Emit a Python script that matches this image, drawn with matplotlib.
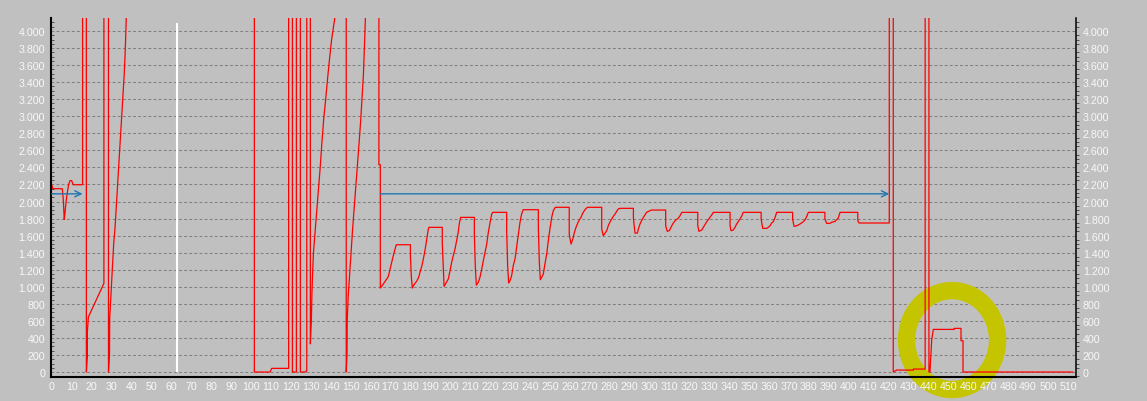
import matplotlib.pyplot as plt
from matplotlib.patches import Ellipse
from matplotlib.ticker import MultipleLocator, FuncFormatter

# off-scale value: the signal leaves the chart there
OFF = 6000

# red signal (x, value)
red_x = [0, 0.6, 5.3, 5.8, 6.1, 6.3, 6.6, 7.0, 7.5, 8.0, 8.5, 9.2, 10.0, 10.8, 15.5, 15.5,
         17.4, 17.4, 17.9, 17.9, 18.4, 25.8, 26.2, 26.2,
         28.5, 28.5, 29.0, 29.1, 29.7, 30.1, 30.6, 31.1, 31.8, 32.3, 32.8, 33.3, 33.9, 34.4,
         34.9, 35.4, 35.9, 36.4, 36.8, 37.1, 37.4, 37.7,
         101.7, 101.7, 109.6, 110.4, 118.9, 118.9, 120.8, 120.8, 122.8, 122.8, 124.8, 124.8,
         127.5, 127.8, 128.0, 128.0, 129.8, 129.8, 130.3, 130.6, 131.3, 132.3, 133.1, 134.0,
         134.8, 135.6, 136.5, 137.5, 138.5, 139.5, 140.5, 142.0, 142.3,
         147.8, 147.8, 148.2, 148.3, 148.8, 149.4, 150.0, 150.5, 151.0, 151.7, 152.4, 153.1,
         153.7, 154.4, 155.1, 155.7, 156.4, 156.9, 157.4, 157.7,
         164.2, 164.2, 164.9, 164.9,
         165.6, 166.4, 167.3, 168.1, 168.9, 169.8, 170.6, 171.4, 172.3, 172.9, 180.0, 180.0,
         180.5, 181.0, 181.5, 182.3, 183.1, 184.0, 184.8, 185.7, 186.5, 187.3, 188.2, 189.0,
         189.3, 196.0, 196.0, 196.9, 197.9, 199.0, 199.9, 200.7, 201.5, 202.4, 203.2, 204.0,
         204.5, 205.2, 212.1, 212.1, 212.6, 213.1, 214.1, 214.9, 215.8, 216.6, 217.4, 218.3,
         219.1, 220.0, 220.8, 221.3, 228.3, 228.3, 228.8, 229.3, 230.0, 230.8, 231.6, 232.5,
         233.3, 234.2, 235.0, 235.8, 236.6, 244.2, 244.2, 244.7, 245.2, 245.9, 246.7, 247.5,
         248.4, 249.2, 250.0, 250.9, 251.7, 252.7, 259.7, 259.7, 260.6, 261.5, 262.3, 263.1,
         264.0, 264.8, 265.6, 266.5, 267.6, 268.8, 276.0, 276.0, 276.8, 278.5, 279.3, 280.2,
         281.0, 281.8, 282.7, 283.5, 284.3, 285.2, 291.9, 291.9, 292.7, 293.9, 294.4, 295.2,
         296.0, 296.9, 297.7, 298.5, 300.2, 301.1, 308.1, 308.1, 308.9, 310.0, 310.8, 311.6,
         312.8, 314.5, 315.3, 316.2, 324.2, 324.2, 324.8, 326.2, 327.0, 328.7, 330.3, 331.2,
         332.0, 340.4, 340.4, 340.9, 342.0, 342.9, 343.7, 344.5, 345.4, 346.2, 347.0, 356.0,
         356.0, 356.8, 358.8, 359.6, 360.5, 361.3, 362.1, 363.0, 363.8, 371.8, 371.8, 372.5,
         373.9, 375.5, 377.2, 378.1, 378.9, 379.7, 388.0, 388.0, 388.9, 390.6, 391.4, 393.1,
         394.7, 395.6, 404.5, 404.5, 405.1, 420.3, 420.3,
         422.3, 422.3, 423.0, 424.0, 432.4, 432.4, 438.3, 438.3, 440.2, 440.2, 440.7, 441.6,
         442.4, 452.9, 452.9, 456.3, 456.3, 457.3, 457.3, 512.3]
red_y = [2195, 2150, 2150, 2030, 1885, 1790, 1850, 1950, 2050, 2130, 2200, 2245, 2245, 2197, 2197, OFF,
         OFF, 0, 176, 470, 645, 1020, 1040, OFF,
         OFF, 0, 211, 620, 895, 1090, 1287, 1500, 1697, 1892, 2088, 2283, 2498, 2694,
         2909, 3105, 3300, 3496, 3710, 3906, 4141, OFF,
         OFF, 0, 0, 43, 43, OFF, OFF, 0, 0, OFF, OFF, 0,
         0, 16, 16, OFF, OFF, 330, 600, 935, 1384, 1677, 1912, 2166,
         2420, 2694, 2968, 3202, 3457, 3691, 3906, 4141, OFF,
         OFF, 0, 211, 602, 895, 1111, 1325, 1501, 1677, 1892, 2108, 2323,
         2518, 2733, 2968, 3202, 3476, 3789, 4141, OFF,
         OFF, 2432, 2432, 985,
         1005, 1032, 1064, 1091, 1118, 1208, 1287, 1364, 1443, 1493, 1493, 1364,
         1103, 985, 1012, 1040, 1064, 1103, 1169, 1240, 1326, 1423, 1560, 1677,
         1697, 1697, 1513, 1005, 1044, 1091, 1188, 1287, 1364, 1443, 1540, 1638,
         1736, 1814, 1814, 1607, 1216, 1020, 1052, 1111, 1208, 1306, 1396, 1501,
         1638, 1756, 1853, 1873, 1873, 1657, 1247, 1044, 1071, 1130, 1247, 1326,
         1462, 1619, 1756, 1853, 1904, 1904, 1697, 1287, 1083, 1111, 1150, 1267,
         1384, 1540, 1677, 1814, 1892, 1932, 1932, 1619, 1501, 1560, 1638, 1697,
         1748, 1787, 1814, 1865, 1904, 1932, 1932, 1677, 1599, 1657, 1716, 1763,
         1795, 1826, 1853, 1885, 1912, 1920, 1920, 1806, 1630, 1630, 1677, 1736,
         1775, 1814, 1842, 1873, 1892, 1900, 1900, 1716, 1650, 1660, 1697, 1736,
         1775, 1806, 1834, 1873, 1873, 1716, 1650, 1666, 1697, 1763, 1814, 1842,
         1873, 1873, 1716, 1657, 1666, 1697, 1736, 1763, 1795, 1826, 1873, 1873,
         1795, 1685, 1685, 1697, 1716, 1748, 1763, 1814, 1873, 1873, 1795, 1709,
         1716, 1736, 1763, 1787, 1826, 1873, 1873, 1795, 1744, 1744, 1756, 1767,
         1806, 1873, 1873, 1775, 1748, 1748, OFF,
         OFF, 0, 10, 23, 23, 35, 35, OFF, OFF, 0, 0, 379,
         500, 500, 512, 512, 367, 367, 0, 0]

# blue arrows (start x, end x, level)
arrow_start = [0, 164.9]
arrow_end = [15.5, 420.3]
arrow_level = [2090, 2090]

# white marker line
marker_x = 62.7
marker_top = 4090

# hand-drawn highlight around the last block
ring_center = (451.8, 375)
ring_size = (45.7, 1160)

y_ticks = list(range(0, 4001, 200))
x_ticks = list(range(0, 511, 10))

BG = "#c0c0c0"
plt.rcParams["font.family"] = ["Liberation Sans", "DejaVu Sans"]

fig = plt.figure(figsize=(11.47, 4.02), dpi=100, facecolor=BG)
ax = fig.add_axes([0.0442, 0.0604, 0.8939, 0.8916], facecolor=BG)
ax.set_xlim(-0.5, 514)
ax.set_ylim(-55, 4149)

# grid
for v in y_ticks:
    ax.axhline(v, color="#808080", lw=0.75, linestyle=(0, (2.7, 2.2)), zorder=1.0)

ax.add_patch(Ellipse(ring_center, ring_size[0], ring_size[1], fill=False,
                     ec="#c4c400", lw=12.5, zorder=1.2, clip_on=False))

ax.plot(red_x, red_y, color="#ff0000", lw=0.9, zorder=2)
ax.vlines(marker_x, 0, marker_top, color="white", lw=1.5, zorder=2)

for x0, x1, lv in zip(arrow_start, arrow_end, arrow_level):
    ax.annotate("", xy=(x1, lv), xytext=(x0, lv),
                arrowprops=dict(arrowstyle="->,head_length=0.45,head_width=0.22",
                                color="#1f77b4", lw=1.0, shrinkA=0, shrinkB=0),
                zorder=3)

fmt = FuncFormatter(lambda v, p: f"{int(v):,}".replace(",", "."))

ax.set_xticks(x_ticks)
ax.set_yticks(y_ticks)
ax.yaxis.set_major_formatter(fmt)
ax.yaxis.set_minor_locator(MultipleLocator(50))
ax.tick_params(axis="x", length=0, pad=3, labelsize=7.7, colors="#f8f8f8")
ax.tick_params(axis="y", which="major", length=0, pad=4, labelsize=7.7, labelcolor="#f8f8f8")
ax.tick_params(axis="y", which="minor", direction="in", length=2, width=0.7, color="#505050")

for s in ["top", "right"]:
    ax.spines[s].set_visible(False)
ax.spines["left"].set_linewidth(1.5)
ax.spines["bottom"].set_linewidth(1.5)
ax.spines["left"].set_color("black")
ax.spines["bottom"].set_color("black")

ax2 = ax.twinx()
ax2.set_ylim(ax.get_ylim())
ax2.set_yticks(y_ticks)
ax2.yaxis.set_major_formatter(fmt)
ax2.yaxis.set_minor_locator(MultipleLocator(50))
ax2.tick_params(axis="y", which="major", length=0, pad=5, labelsize=7.7, labelcolor="#f8f8f8")
ax2.tick_params(axis="y", which="minor", direction="out", length=2, width=0.7, color="#505050")
for s in ["top", "left", "bottom"]:
    ax2.spines[s].set_visible(False)
ax2.spines["right"].set_linewidth(1.1)
ax2.spines["right"].set_color("black")

fig.savefig("out.png", dpi=100, facecolor=BG)
